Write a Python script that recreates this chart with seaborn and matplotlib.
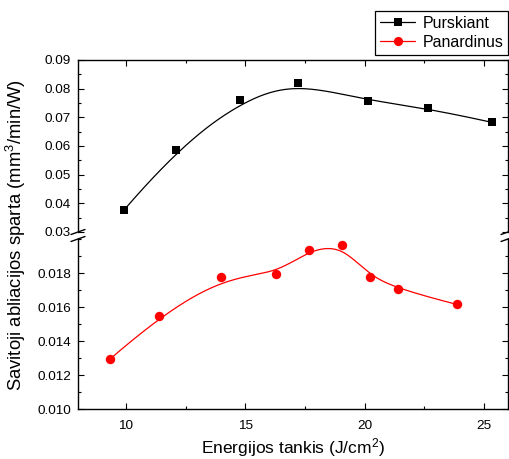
import numpy as np
import matplotlib
matplotlib.use("Agg")
import matplotlib.pyplot as plt
from matplotlib.lines import Line2D
from matplotlib.ticker import MultipleLocator, FormatStrFormatter
import seaborn as sns

# ---- data ----
x_pur = [9.92, 12.10, 14.80, 17.21, 20.12, 22.66, 25.35]
y_pur = [0.0376, 0.0587, 0.0762, 0.0821, 0.0756, 0.0732, 0.0682]
x_pan = [9.36, 11.41, 13.99, 16.28, 17.66, 19.04, 20.21, 21.39, 23.86]
y_pan = [0.01296, 0.01545, 0.01777, 0.01792, 0.01936, 0.01964, 0.01777, 0.01705, 0.01615]
series_names = ["Purskiant", "Panardinus"]
x_label = "Energijos tankis (J/cm$^2$)"
y_label = "Savitoji abliacijos sparta (mm$^3$/min/W)"

sns.set_style("ticks")
plt.rcParams["font.family"] = ["Liberation Sans", "DejaVu Sans"]
plt.rcParams["mathtext.fontset"] = "custom"
plt.rcParams["mathtext.rm"] = "Liberation Sans"
plt.rcParams["mathtext.it"] = "Liberation Sans"
plt.rcParams["mathtext.default"] = "regular"
for key in ("text.color", "axes.labelcolor", "xtick.color", "ytick.color"):
    plt.rcParams[key] = "black"


def bspline(xs, ys, k=3, num=300):
    """Clamped cubic B-spline using the data points as control points
    (the 'B-spline' connection used by the original plotting software)."""
    P = np.column_stack([xs, ys]).astype(float)
    n = len(P)
    knots = np.concatenate([np.zeros(k), np.linspace(0, 1, n - k + 1), np.ones(k)])
    t = np.linspace(0, 1, num)
    m = len(knots) - 1
    N = np.zeros((num, m))
    for j in range(m):
        N[:, j] = (knots[j] <= t) & (t < knots[j + 1])
    N[t >= 1.0, n - 1] = 1.0
    for p in range(1, k + 1):
        Nn = np.zeros((num, m - p))
        for j in range(m - p):
            d1 = knots[j + p] - knots[j]
            d2 = knots[j + p + 1] - knots[j + 1]
            a = (t - knots[j]) / d1 * N[:, j] if d1 > 0 else 0
            b = (knots[j + p + 1] - t) / d2 * N[:, j + 1] if d2 > 0 else 0
            Nn[:, j] = a + b
        N = Nn
    C = N @ P
    return C[:, 0], C[:, 1]


W, H = 510, 459
fig = plt.figure(figsize=(W / 100, H / 100), dpi=100)
left, right = 78 / W, 508 / W
up_top, up_bot = 1 - 60 / H, 1 - 232 / H
lo_top, lo_bot = 1 - 239 / H, 1 - 409 / H
ax_up = fig.add_axes([left, up_bot, right - left, up_top - up_bot])
ax_lo = fig.add_axes([left, lo_bot, right - left, lo_top - lo_bot])

tick_fs = 9.7
for ax in (ax_up, ax_lo):
    ax.set_xlim(8, 26)
    ax.xaxis.set_major_locator(MultipleLocator(5))
    ax.xaxis.set_minor_locator(MultipleLocator(2.5))
    for s in ax.spines.values():
        s.set_linewidth(1.0)
        s.set_color("black")
    ax.tick_params(which="both", direction="in", left=True, right=True,
                   color="black", labelcolor="black", width=0.8,
                   labelsize=tick_fs, pad=5)
    ax.tick_params(which="major", length=4)
    ax.tick_params(which="minor", length=2.4)
    ax.set_facecolor("white")

# upper part
ax_up.set_ylim(0.03, 0.09)
ax_up.yaxis.set_major_locator(MultipleLocator(0.01))
ax_up.yaxis.set_minor_locator(MultipleLocator(0.005))
ax_up.yaxis.set_major_formatter(FormatStrFormatter("%.2f"))
ax_up.spines["bottom"].set_visible(False)
ax_up.tick_params(which="both", top=True, bottom=False, labelbottom=False, labeltop=False)

# lower part
ax_lo.set_ylim(0.010, 0.020)
ax_lo.set_yticks([0.010, 0.012, 0.014, 0.016, 0.018])
ax_lo.yaxis.set_minor_locator(MultipleLocator(0.001))
ax_lo.yaxis.set_major_formatter(FormatStrFormatter("%.3f"))
ax_lo.spines["top"].set_visible(False)
ax_lo.tick_params(which="both", top=False, bottom=True, labelbottom=True)
ax_lo.tick_params(axis="x", pad=8)

# curves
bx, by = bspline(x_pur, y_pur)
sns.lineplot(x=bx, y=by, ax=ax_up, color="black", lw=0.9, sort=False, estimator=None)
sns.scatterplot(x=x_pur, y=y_pur, ax=ax_up, marker="s", s=38, color="black",
                edgecolor="black", linewidth=0, zorder=3)
rx, ry = bspline(x_pan, y_pan)
sns.lineplot(x=rx, y=ry, ax=ax_lo, color="#ff0000", lw=0.9, sort=False, estimator=None)
sns.scatterplot(x=x_pan, y=y_pan, ax=ax_lo, marker="o", s=46, color="#ff0000",
                edgecolor="#ff0000", linewidth=0, zorder=3)
for ax in (ax_up, ax_lo):
    ax.set_xlabel("")
    ax.set_ylabel("")

# break marks
dx, dy = 7 / W, 2.5 / H
for yb in (up_bot, lo_top):
    for xb in (left, right):
        fig.add_artist(Line2D([xb - dx, xb + dx], [yb - dy, yb + dy],
                              transform=fig.transFigure, color="black", lw=1.0))

# labels
fig.text((left + right) / 2, 1 - 453 / H, x_label, ha="center", va="baseline",
         fontsize=12.5, color="black")
fig.text(28 / W, (up_top + lo_bot) / 2, y_label, rotation=90, ha="right", va="center",
         fontsize=13.3, color="black")

# legend
handles = [
    Line2D([], [], color="black", lw=0.9, marker="s", markersize=6, markeredgewidth=0),
    Line2D([], [], color="#ff0000", lw=0.9, marker="o", markersize=6.6, markeredgewidth=0),
]
leg = fig.legend(handles, series_names, loc="upper right",
                 bbox_to_anchor=(508 / W, 1 - 11 / H), fontsize=11.5,
                 frameon=True, fancybox=False, framealpha=1, edgecolor="black",
                 handlelength=2.2, handletextpad=0.45, borderpad=0.3,
                 labelspacing=0.25, borderaxespad=0)
leg.get_frame().set_linewidth(0.9)
for t in leg.get_texts():
    t.set_color("black")

fig.savefig("out.png", dpi=100, facecolor="white")
